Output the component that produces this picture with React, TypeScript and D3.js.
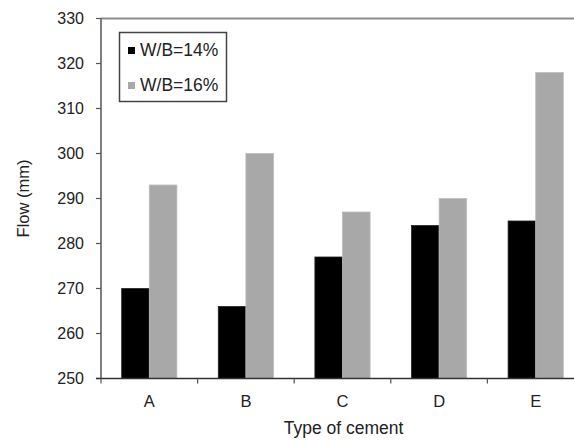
import React from "react";
import * as d3 from "d3";

const categories = ["A", "B", "C", "D", "E"];
const seriesNames = ["W/B=14%", "W/B=16%"];
const flow14 = [270, 266, 277, 284, 285];
const flow16 = [293, 300, 287, 290, 318];
const yTicks = [250, 260, 270, 280, 290, 300, 310, 320, 330];
const seriesColors = ["#000000", "#a8a8a8"];

const W = 574;
const H = 441;
const left = 101;
const right = 584;
const top = 18.5;
const bottom = 378.5;
const font = "'Liberation Sans', Arial, sans-serif";
const textColor = "#222";

export default function App() {
  const y = d3.scaleLinear().domain([250, 330]).range([bottom, top]);
  const gap = 1.5 / 3.5;
  const x = d3
    .scaleBand<string>()
    .domain(categories)
    .range([left, right])
    .paddingInner(gap)
    .paddingOuter(gap / 2);
  const x1 = d3
    .scaleBand<number>()
    .domain([0, 1])
    .range([0, x.bandwidth()]);
  const values = [flow14, flow16];
  const boundaries = categories
    .map((c) => (x(c) as number) - (x.step() - x.bandwidth()) / 2)
    .concat([right]);

  return (
    <svg
      width={W}
      height={H}
      style={{ position: "absolute", left: 0, top: 0, background: "#fff" }}
      fontFamily={font}
    >
      <rect width={W} height={H} fill="#fff" />
      {/* bars */}
      {values.map((vals, s) =>
        vals.map((v, i) => (
          <rect
            key={`${s}-${i}`}
            x={(x(categories[i]) as number) + (x1(s) as number)}
            y={y(v)}
            width={x1.bandwidth()}
            height={y(250) - y(v)}
            fill={seriesColors[s]}
            stroke={s === 0 ? "#222" : "#bdbdbd"}
            strokeWidth={0.8}
          />
        ))
      )}
      {/* plot frame */}
      <line x1={left} x2={right} y1={top} y2={top} stroke="#8c8c8c" strokeWidth={2} />
      <line x1={right} x2={right} y1={top} y2={bottom} stroke="#8c8c8c" strokeWidth={2} />
      {/* y axis */}
      <line x1={left} x2={left} y1={top} y2={bottom} stroke="#555" strokeWidth={1.5} />
      {yTicks.map((t) => (
        <g key={t}>
          <line x1={left - 5} x2={left} y1={y(t)} y2={y(t)} stroke="#555" strokeWidth={1.2} />
          <text
            x={84}
            y={y(t)}
            dy="0.35em"
            textAnchor="end"
            fontSize={16}
            fill={textColor}
          >
            {t}
          </text>
        </g>
      ))}
      <text
        transform={`translate(29,${(top + bottom) / 2}) rotate(-90)`}
        textAnchor="middle"
        fontSize={16.5}
        fill={textColor}
      >
        Flow (mm)
      </text>
      {/* x axis */}
      <line x1={left - 5} x2={right} y1={bottom} y2={bottom} stroke="#333" strokeWidth={1.5} />
      {boundaries.map((b, i) => (
        <line key={i} x1={b} x2={b} y1={bottom} y2={bottom + 5} stroke="#555" strokeWidth={1.2} />
      ))}
      {categories.map((c) => (
        <text
          key={c}
          x={(x(c) as number) + x.bandwidth() / 2}
          y={407}
          textAnchor="middle"
          fontSize={16.5}
          fill={textColor}
        >
          {c}
        </text>
      ))}
      <text x={343.5} y={434} textAnchor="middle" fontSize={17.5} fill={textColor}>
        Type of cement
      </text>
      {/* legend */}
      <rect x={119.5} y={32.5} width={107} height={69} fill="#fff" stroke="#444" strokeWidth={1.5} />
      {seriesNames.map((name, s) => (
        <g key={name}>
          <rect x={128} y={47 + s * 35} width={7} height={7} fill={seriesColors[s]} />
          <text x={140} y={55.5 + s * 35} fontSize={17.5} fill={textColor}>
            {name}
          </text>
        </g>
      ))}
    </svg>
  );
}
